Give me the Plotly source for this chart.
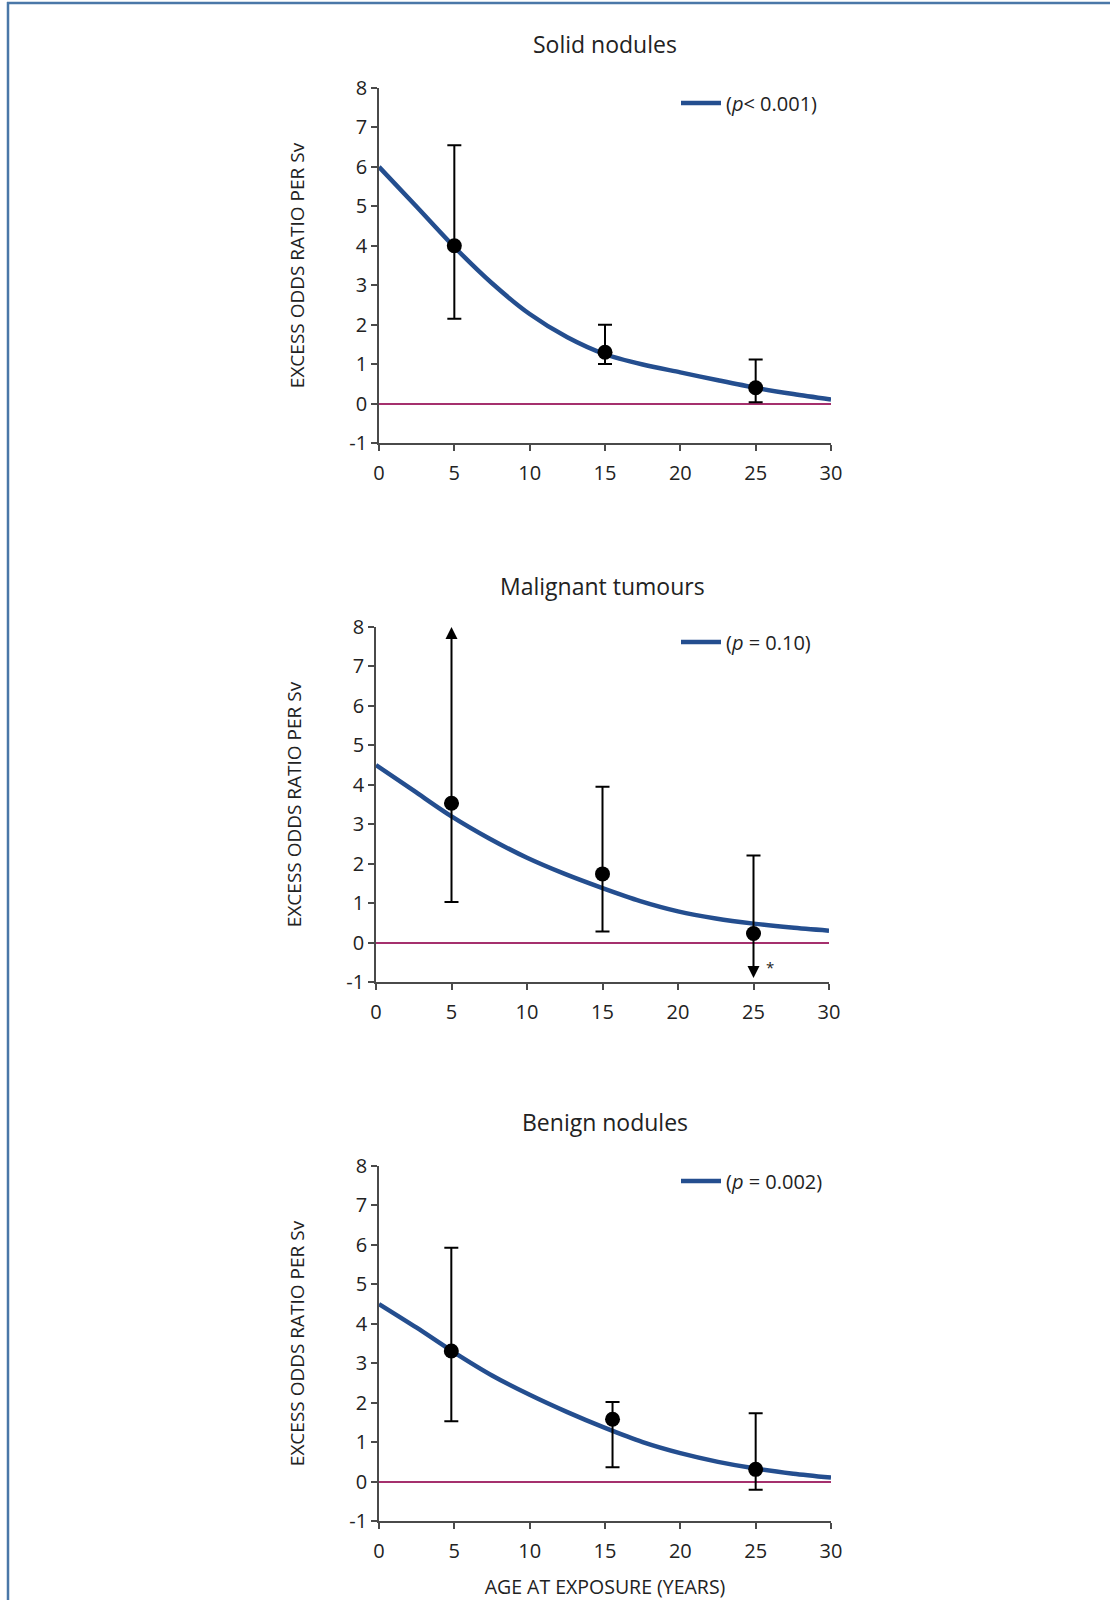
import plotly.graph_objects as go

W, H = 1110, 1600

# ---------------- data ----------------
panel_titles = ["Solid nodules", "Malignant tumours", "Benign nodules"]
legend_labels = ["(<i>p</i>< 0.001)", "(<i>p</i> = 0.10)", "(<i>p</i> = 0.002)"]

curve_x = [0, 2.5, 5, 7.5, 10, 12.5, 15, 17.5, 20, 22.5, 25, 27.5, 30]
curve_solid = [6.0, 4.99, 3.97, 3.05, 2.27, 1.68, 1.25, 0.99, 0.79, 0.59, 0.4, 0.24, 0.1]
curve_malignant = [4.5, 3.85, 3.2, 2.64, 2.15, 1.74, 1.38, 1.05, 0.79, 0.61, 0.48, 0.38, 0.3]
curve_benign = [4.5, 3.9, 3.27, 2.69, 2.2, 1.76, 1.36, 1.0, 0.72, 0.5, 0.33, 0.2, 0.1]

pts_x_solid = [5, 15, 25]
pts_y_solid = [4.0, 1.3, 0.4]
ci_hi_solid = [6.55, 2.0, 1.12]
ci_lo_solid = [2.15, 1.0, 0.03]

pts_x_malignant = [5, 15, 25]
pts_y_malignant = [3.53, 1.74, 0.23]
ci_hi_malignant = [8.0, 3.95, 2.21]      # 8.0 -> open-ended (arrow)
ci_lo_malignant = [1.03, 0.28, -0.9]     # -0.9 -> open-ended (arrow)
open_hi_malignant = [True, False, False]
open_lo_malignant = [False, False, True]

pts_x_benign = [4.8, 15.5, 25]
pts_y_benign = [3.31, 1.58, 0.31]
ci_hi_benign = [5.93, 2.02, 1.73]
ci_lo_benign = [1.53, 0.36, -0.21]

y_ticks = [-1, 0, 1, 2, 3, 4, 5, 6, 7, 8]
y_ticktext = ["-1", "0", "1", "2", "3", "4", "5", "6", "7", "8"]
x_ticks = [0, 5, 10, 15, 20, 25, 30]
y_title = "EXCESS ODDS RATIO PER Sv"
x_title = "AGE AT EXPOSURE (YEARS)"

# ---------------- style ----------------
FONT = "Open Sans"
CURVE_COLOR = "#244e8f"
ZERO_COLOR = "#a5306d"
AXIS_COLOR = "#4a4a4a"
TEXT_COLOR = "#222222"
BORDER_COLOR = "#4a77a8"

# pixel boxes of each plot area: (left, right, top(y=8), bottom(y=-1))
boxes = [(379, 831, 88, 443), (376, 829, 627, 982), (379, 831, 1166, 1521)]
title_y = [44, 586, 1122]

def px_to_paper_x(p):
    return p / W

def px_to_paper_y(p):
    return 1 - p / H

fig = go.Figure()

panels = [
    (curve_solid, pts_x_solid, pts_y_solid, ci_hi_solid, ci_lo_solid, [False]*3, [False]*3),
    (curve_malignant, pts_x_malignant, pts_y_malignant, ci_hi_malignant, ci_lo_malignant,
     open_hi_malignant, open_lo_malignant),
    (curve_benign, pts_x_benign, pts_y_benign, ci_hi_benign, ci_lo_benign, [False]*3, [False]*3),
]

annotations = []
for i, (cy, px, py, hi, lo, ohi, olo) in enumerate(panels):
    k = "" if i == 0 else str(i + 1)
    xa, ya = "x" + k, "y" + k
    leg = "legend" + k
    # fitted curve
    fig.add_trace(go.Scatter(
        x=curve_x, y=cy, mode="lines", xaxis=xa, yaxis=ya,
        line=dict(color=CURVE_COLOR, width=4.5, shape="spline", smoothing=0.8),
        name=legend_labels[i], legend=leg, showlegend=True, hoverinfo="skip",
    ))
    # error bars + points (open-ended sides have zero error, arrows drawn separately)
    err_plus = [0 if o else h - y for h, y, o in zip(hi, py, ohi)]
    err_minus = [0 if o else y - l for l, y, o in zip(lo, py, olo)]
    fig.add_trace(go.Scatter(
        x=px, y=py, mode="markers", xaxis=xa, yaxis=ya, showlegend=False,
        marker=dict(color="black", size=15),
        error_y=dict(type="data", symmetric=False, array=err_plus, arrayminus=err_minus,
                     color="black", thickness=2, width=7),
    ))
    for xx, yy, h, l, oh, ol in zip(px, py, hi, lo, ohi, olo):
        if oh:
            annotations.append(dict(x=xx, y=h, ax=xx, ay=yy, xref=xa, yref=ya,
                                    axref=xa, ayref=ya, text="", showarrow=True,
                                    arrowhead=2, arrowsize=1.2, arrowwidth=2,
                                    arrowcolor="black"))
        if ol:
            annotations.append(dict(x=xx, y=l, ax=xx, ay=yy, xref=xa, yref=ya,
                                    axref=xa, ayref=ya, text="", showarrow=True,
                                    arrowhead=2, arrowsize=1.2, arrowwidth=2,
                                    arrowcolor="black"))
            annotations.append(dict(x=xx + 1.1, y=-0.62, xref=xa, yref=ya, text="*",
                                    showarrow=False,
                                    font=dict(family=FONT, size=15, color=TEXT_COLOR)))

    l, r, t, b = boxes[i]
    xdom = [px_to_paper_x(l), px_to_paper_x(r)]
    ydom = [px_to_paper_y(b), px_to_paper_y(t)]
    axis_common = dict(showline=True, linecolor=AXIS_COLOR, linewidth=1.6,
                       ticks="outside", ticklen=6, tickwidth=1.6, tickcolor=AXIS_COLOR,
                       showgrid=False, automargin=False,
                       tickfont=dict(family=FONT, size=20, color=TEXT_COLOR))
    fig.layout["xaxis" + k] = dict(
        domain=xdom, anchor=ya, range=[0, 30], tickvals=x_ticks, zeroline=False,
        ticklabelstandoff=5,
        title=dict(text=x_title if i == 2 else "", standoff=27,
                   font=dict(family=FONT, size=19.5, color=TEXT_COLOR)),
        **axis_common)
    fig.layout["yaxis" + k] = dict(
        domain=ydom, anchor=xa, range=[-1, 8], tickvals=y_ticks, ticktext=y_ticktext,
        zeroline=True, zerolinecolor=ZERO_COLOR, zerolinewidth=2,
        title=dict(text=y_title, standoff=40,
                   font=dict(family=FONT, size=19, color=TEXT_COLOR)),
        **axis_common)
    fig.layout[leg] = dict(x=px_to_paper_x(676), y=px_to_paper_y(t + 15),
                           xanchor="left", yanchor="middle", bgcolor="rgba(0,0,0,0)",
                           itemwidth=40,
                           font=dict(family=FONT, size=20, color=TEXT_COLOR))
    annotations.append(dict(x=(xdom[0] + xdom[1]) / 2, y=px_to_paper_y(title_y[i]),
                            xref="paper", yref="paper", text=panel_titles[i],
                            showarrow=False, xanchor="center", yanchor="middle",
                            font=dict(family=FONT, size=23, color=TEXT_COLOR)))

shapes = [
    dict(type="line", xref="paper", yref="paper", x0=px_to_paper_x(8), x1=px_to_paper_x(8),
         y0=0, y1=px_to_paper_y(2), line=dict(color=BORDER_COLOR, width=2.5)),
    dict(type="line", xref="paper", yref="paper", x0=px_to_paper_x(7), x1=1,
         y0=px_to_paper_y(3), y1=px_to_paper_y(3), line=dict(color=BORDER_COLOR, width=2.5)),
]

fig.update_layout(
    width=W, height=H, margin=dict(l=0, r=0, t=0, b=0),
    paper_bgcolor="white", plot_bgcolor="white",
    annotations=annotations, shapes=shapes,
    font=dict(family=FONT, color=TEXT_COLOR),
)

fig.write_html("out.html", config={"displayModeBar": False},
               post_script="document.body.style.margin='0';")
